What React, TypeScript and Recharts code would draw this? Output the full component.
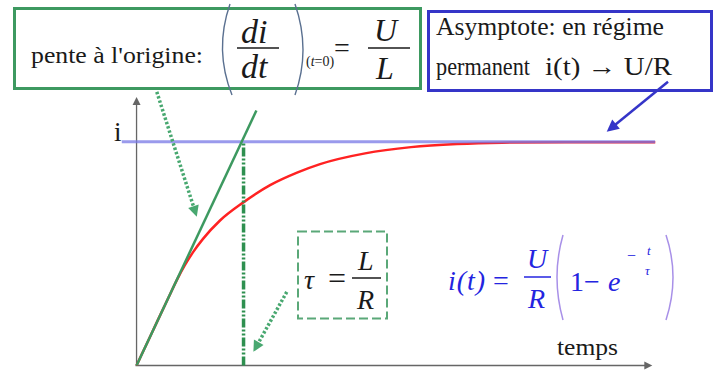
import React from 'react';
import { ComposedChart, Line, XAxis, YAxis, ReferenceLine } from 'recharts';

// t in units of tau, i in units of U/R
const TIME = [0, 0.1, 0.2, 0.3, 0.38, 0.45, 0.53, 0.621, 0.78, 0.995, 1.248, 1.5, 1.715, 2.136, 2.565, 2.995, 3.416, 4.0, 4.85];
const CURRENT = [0, 0.102, 0.204, 0.305, 0.385, 0.447, 0.508, 0.566, 0.648, 0.728, 0.806, 0.862, 0.9, 0.948, 0.976, 0.99, 0.996, 0.998, 0.998];

// tangent at the origin
const TANGENT_T = [0, 1.12];
const TANGENT_I = [0, 1.14];

const TAU = 1;
const ASYMPTOTE = 1;

const curve = TIME.map((t, k) => ({ t, i: CURRENT[k] }));
const tangent = TANGENT_T.map((t, k) => ({ t, i: TANGENT_I[k] }));

const SERIF = 'Liberation Serif';
const GREEN = '#3d9960';
const BLUE = '#3535c8';
const INK = '#1a1a1a';

type ArrowOpts = { color: string; width: number; head: number; dash?: string };

const arrowShape = ({ color, width, head, dash }: ArrowOpts) => (p: any) => {
  const { x1, y1, x2, y2 } = p;
  const dx = x2 - x1;
  const dy = y2 - y1;
  const len = Math.hypot(dx, dy) || 1;
  const ux = dx / len;
  const uy = dy / len;
  const bx = x2 - ux * head;
  const by = y2 - uy * head;
  const w = head * 0.5;
  const pts = `${x2},${y2} ${bx - uy * w},${by + ux * w} ${bx + uy * w},${by - ux * w}`;
  return (
    <g>
      <line x1={x1} y1={y1} x2={bx + ux} y2={by + uy} stroke={color} strokeWidth={width} strokeDasharray={dash} />
      <polygon points={pts} fill={color} />
    </g>
  );
};

const rm = { fontFamily: SERIF };
const it = { fontFamily: SERIF, fontStyle: 'italic' as const };
const fit = (w: number) => ({ textLength: w, lengthAdjust: 'spacingAndGlyphs' as const });
const spread = (w: number) => ({ textLength: w, lengthAdjust: 'spacing' as const });

const Annotations = () => (
  <svg width={716} height={374} style={{ position: 'absolute', left: 0, top: 0, pointerEvents: 'none' }}>
    {/* slope box */}
    <rect x={14.5} y={8.5} width={406} height={80} fill="none" stroke={GREEN} strokeWidth={3} />
    <text x={31} y={63} fontSize={23} fill={INK} style={rm} {...fit(172)}>pente à l'origine:</text>
    <path d="M230,4 Q214,50 232,95" fill="none" stroke="#5a7090" strokeWidth={1.4} />
    <path d="M295,4 Q311,50 295,95" fill="none" stroke="#5a7090" strokeWidth={1.4} />
    <text x={241} y={43} fontSize={34} style={it} fill={INK}>di</text>
    <line x1={237} x2={279} y1={48} y2={48} stroke={INK} strokeWidth={1.5} />
    <text x={241} y={78} fontSize={34} style={it} fill={INK}>dt</text>
    <text x={306} y={66} fontSize={14} fill={INK} style={rm}>
      (<tspan fontStyle="italic">t</tspan>=0)
    </text>
    <text x={334} y={57} fontSize={28} fill={INK} style={rm}>=</text>
    <text x={374} y={41} fontSize={32} style={it} fill={INK}>U</text>
    <line x1={368} x2={410} y1={48} y2={48} stroke={INK} strokeWidth={1.5} />
    <text x={376} y={79} fontSize={32} style={it} fill={INK}>L</text>

    {/* asymptote box */}
    <rect x={428.5} y={11.5} width={283} height={79} fill="none" stroke={BLUE} strokeWidth={3} />
    <text x={436} y={35} fontSize={25} fill={INK} style={rm} {...fit(228)}>Asymptote: en régime</text>
    <text x={436} y={75} fontSize={25} fill={INK} style={rm} {...fit(94)}>permanent</text>
    <text x={545} y={75} fontSize={25} fill={INK} style={rm} {...fit(127)}>i(t) → U/R</text>

    {/* axis labels */}
    <text x={114} y={141} fontSize={27} fill={INK} style={rm}>i</text>
    <text x={557} y={355} fontSize={23} fill={INK} style={rm} {...fit(61)}>temps</text>

    {/* time constant */}
    <rect x={298} y={231.5} width={89} height={87} fill="none" stroke="#5aa878" strokeWidth={2} strokeDasharray="9 4" />
    <text x={304} y={289} fontSize={28} style={it} fill={INK}>τ</text>
    <text x={328} y={289} fontSize={32} fill={INK} style={rm}>=</text>
    <text x={358} y={270} fontSize={28} style={it} fill={INK}>L</text>
    <line x1={352} x2={381} y1={278} y2={278} stroke={INK} strokeWidth={1.5} />
    <text x={357} y={309} fontSize={28} style={it} fill={INK}>R</text>

    {/* i(t) expression */}
    <g fill="#2424e0">
      <text x={448} y={290} fontSize={28} style={it} {...spread(37)}>i(t)</text>
      <text x={493} y={290} fontSize={28} style={rm}>=</text>
      <text x={527} y={268} fontSize={28} style={it}>U</text>
      <line x1={524} x2={551} y1={277} y2={277} stroke="#2424e0" strokeWidth={1.5} />
      <text x={528} y={308} fontSize={28} style={it}>R</text>
      <text x={570} y={291} fontSize={28} style={rm}>1−</text>
      <text x={608} y={291} fontSize={28} style={it}>e</text>
      <text x={627} y={261} fontSize={16} style={rm}>−</text>
      <text x={647} y={255} fontSize={13} style={it}>t</text>
      <text x={645} y={275} fontSize={13} style={it}>τ</text>
    </g>
    <path d="M563,235 Q551,277 563,320" fill="none" stroke="#a890e8" strokeWidth={1.5} />
    <path d="M666,235 Q680,277 666,320" fill="none" stroke="#a890e8" strokeWidth={1.5} />
  </svg>
);

export default function App() {
  return (
    <div style={{ position: 'absolute', left: 0, top: 0, width: 716, height: 374, background: '#fff' }}>
      <ComposedChart width={716} height={374} data={curve} margin={{ top: 97, right: 60.5, bottom: 8.5, left: 120.5 }}>
        <XAxis dataKey="t" type="number" domain={[-0.15, 4.85]} allowDataOverflow hide />
        <YAxis type="number" domain={[0, 1.2]} allowDataOverflow hide />

        {/* axes */}
        <ReferenceLine segment={[{ x: 0, y: 0 }, { x: 0, y: 1.2 }]} ifOverflow="visible"
          shape={arrowShape({ color: '#666', width: 1.3, head: 8 })} />
        <ReferenceLine segment={[{ x: -0.01, y: 0 }, { x: 4.82, y: 0 }]} ifOverflow="visible"
          shape={arrowShape({ color: '#666', width: 1.3, head: 8 })} />

        <Line data={curve} dataKey="i" type="monotone" stroke="#ff2222" strokeWidth={2.5} dot={false} isAnimationActive={false} />
        <ReferenceLine segment={[{ x: -0.138, y: ASYMPTOTE }, { x: 4.846, y: ASYMPTOTE }]} ifOverflow="visible"
          stroke="#7878e6" strokeOpacity={0.75} strokeWidth={3} />
        <Line data={tangent} dataKey="i" type="linear" stroke={GREEN} strokeWidth={2.5} dot={false} isAnimationActive={false} />
        <ReferenceLine segment={[{ x: TAU, y: 0 }, { x: TAU, y: ASYMPTOTE }]} ifOverflow="visible"
          stroke="#2e9050" strokeWidth={3.5} strokeDasharray="9 2 2 2 2 2" />

        {/* pointers */}
        <ReferenceLine segment={[{ x: 0.189, y: 1.223 }, { x: 0.563, y: 0.665 }]} ifOverflow="visible"
          shape={arrowShape({ color: '#48a870', width: 3.5, head: 11, dash: '2.5 2' })} />
        <ReferenceLine segment={[{ x: 1.404, y: 0.329 }, { x: 1.092, y: 0.061 }]} ifOverflow="visible"
          shape={arrowShape({ color: '#48a870', width: 3.5, head: 11, dash: '2.5 2' })} />
        <ReferenceLine segment={[{ x: 4.967, y: 1.268 }, { x: 4.394, y: 1.045 }]} ifOverflow="visible"
          shape={arrowShape({ color: BLUE, width: 2.5, head: 12 })} />
      </ComposedChart>
      <Annotations />
    </div>
  );
}
